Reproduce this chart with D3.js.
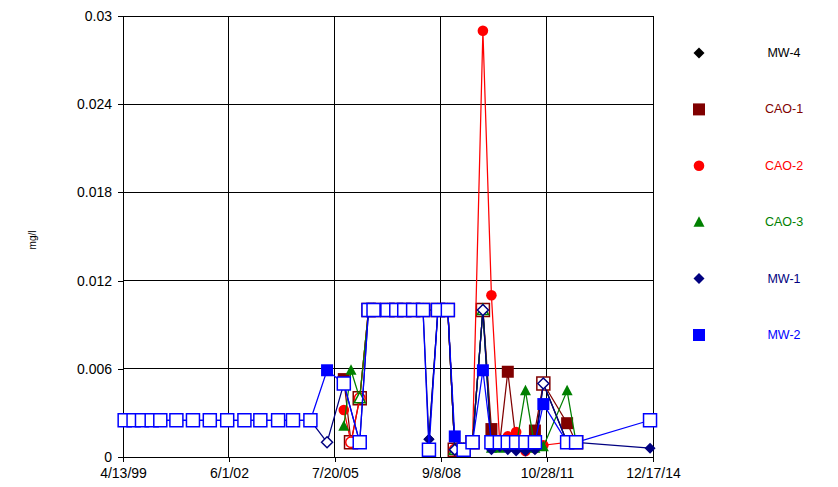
<!DOCTYPE html>
<html>
<head>
<meta charset="utf-8">
<script src="https://cdn.jsdelivr.net/npm/d3@7"></script>
<style>
  body { margin: 0; background: #fff; }
  svg { font-family: "Liberation Sans", Arial, sans-serif; }
</style>
</head>
<body>
<div id="chart"></div>
<script>
// sampling dates shared by all wells
const sampleDates = [
  '1999-05-01', '1999-08-05', '1999-11-04', '2000-02-17', '2000-05-20', '2000-11-10',
  '2001-05-08', '2001-11-06', '2002-05-13', '2002-11-15', '2003-05-06', '2003-11-14',
  '2004-04-23', '2004-10-28', '2005-04-26', '2005-10-24', '2006-01-10', '2006-04-14',
  '2006-07-18', '2006-09-10', '2007-02-07', '2007-05-14', '2007-08-08', '2007-11-12',
  '2008-02-27', '2008-05-01', '2008-08-06', '2008-11-21', '2009-02-04', '2009-05-11',
  '2009-08-15', '2009-12-05', '2010-03-07', '2010-06-06', '2010-08-31', '2010-11-29',
  '2011-03-10', '2011-06-20', '2011-09-19', '2012-06-02', '2012-09-07', '2014-11-15'
];

const N = null;
// mg/l, null = not sampled; detect 0 = non-detect (open marker)
const mw4Values = [N, N, N, N, N, N, N, N, N, N, N, N, N, N, N, N, N, N, N, N, N, N, N, N, N,
  0.0012, 0.01, 0.01, 0.0005, 0.0005, 0.001, 0.01, 0.001, 0.001, 0.001, 0.001, 0.001, 0.001, 0.005, 0.001, 0.001, N];
const mw4Detect = [0, 0, 0, 0, 0, 0, 0, 0, 0, 0, 0, 0, 0, 0, 0, 0, 0, 0, 0, 0, 0, 0, 0, 0, 0,
  1, 0, 0, 0, 0, 0, 0, 0, 0, 0, 0, 0, 0, 0, 0, 0, 0];

const cao1Values = [N, N, N, N, N, N, N, N, N, N, N, N, N, N, N,
  0.0053, 0.001, 0.004, 0.01, 0.01, 0.01, 0.01, 0.01, 0.01, 0.01, N, 0.01, 0.01,
  0.0005, 0.0005, 0.001, 0.01, 0.0019, 0.001, 0.0058, 0.001, 0.001, 0.0018, 0.005, 0.0023, 0.001, N];
const cao1Detect = [0, 0, 0, 0, 0, 0, 0, 0, 0, 0, 0, 0, 0, 0, 0,
  1, 0, 0, 0, 0, 0, 0, 0, 0, 0, 0, 0, 0,
  0, 0, 0, 0, 1, 0, 1, 0, 0, 1, 0, 1, 0, 0];

const cao2Values = [N, N, N, N, N, N, N, N, N, N, N, N, N, N, N,
  0.0032, 0.001, 0.004, 0.01, 0.01, 0.01, 0.01, 0.01, 0.01, 0.01, N, 0.01, 0.01,
  0.0005, 0.0005, 0.001, 0.029, 0.011, 0.0008, 0.0014, 0.0017, 0.0004, 0.0006, 0.0008, 0.001, 0.001, N];
const cao2Detect = [0, 0, 0, 0, 0, 0, 0, 0, 0, 0, 0, 0, 0, 0, 0,
  1, 0, 0, 0, 0, 0, 0, 0, 0, 0, 0, 0, 0,
  0, 0, 0, 1, 1, 1, 1, 1, 1, 1, 1, 0, 0, 0];

const cao3Values = [N, N, N, N, N, N, N, N, N, N, N, N, N, N, N,
  0.0021, 0.0059, 0.004, 0.01, 0.01, 0.01, 0.01, 0.01, 0.01, 0.01, N, 0.01, 0.01,
  0.0005, 0.0005, 0.001, 0.01, 0.0006, 0.0006, 0.0007, 0.0007, 0.0045, 0.0006, 0.0007, 0.0045, 0.001, N];
const cao3Detect = [0, 0, 0, 0, 0, 0, 0, 0, 0, 0, 0, 0, 0, 0, 0,
  1, 1, 0, 0, 0, 0, 0, 0, 0, 0, 0, 0, 0,
  0, 0, 0, 0, 1, 1, 1, 1, 1, 1, 1, 1, 0, 0];

const mw1Values = [0.0025, 0.0025, 0.0025, 0.0025, 0.0025, 0.0025, 0.0025, 0.0025, 0.0025, 0.0025,
  0.0025, 0.0025, 0.0025, 0.0025, 0.001, 0.005, N, 0.001, 0.01, 0.01, 0.01, 0.01, 0.01, 0.01, 0.01,
  0.0012, 0.01, 0.01, 0.0005, 0.0005, 0.001, 0.01, 0.0005, 0.0007, 0.0005, 0.0004, 0.0004, 0.0005,
  0.005, 0.001, 0.001, 0.0006];
const mw1Detect = [0, 0, 0, 0, 0, 0, 0, 0, 0, 0, 0, 0, 0, 0, 0, 0, 0, 0, 0, 0, 0, 0, 0, 0, 0,
  1, 0, 0, 0, 0, 0, 0, 1, 1, 1, 1, 1, 1, 0, 0, 0, 1];

const mw2Values = [0.0025, 0.0025, 0.0025, 0.0025, 0.0025, 0.0025, 0.0025, 0.0025, 0.0025, 0.0025,
  0.0025, 0.0025, 0.0025, 0.0025, 0.0059, 0.005, N, 0.001, 0.01, 0.01, 0.01, 0.01, 0.01, 0.01, 0.01,
  0.0005, 0.01, 0.01, 0.0014, 0.0005, 0.001, 0.0059, 0.001, 0.001, 0.001, 0.001, 0.001, 0.001,
  0.0036, 0.001, 0.001, 0.0025];
const mw2Detect = [0, 0, 0, 0, 0, 0, 0, 0, 0, 0, 0, 0, 0, 0, 1, 0, 0, 0, 0, 0, 0, 0, 0, 0, 0,
  0, 0, 0, 1, 0, 0, 1, 0, 0, 0, 0, 0, 0, 1, 0, 0, 0];

const seriesNames = ['MW-4', 'CAO-1', 'CAO-2', 'CAO-3', 'MW-1', 'MW-2'];
const seriesColors = ['#000000', '#800000', '#ff0000', '#008000', '#000080', '#0000ff'];
const seriesShapes = ['diamond', 'square', 'circle', 'triangle', 'diamond', 'square'];
const seriesValues = [mw4Values, cao1Values, cao2Values, cao3Values, mw1Values, mw2Values];
const seriesDetect = [mw4Detect, cao1Detect, cao2Detect, cao3Detect, mw1Detect, mw2Detect];

const xTickDates = ['1999-04-13', '2002-06-01', '2005-07-20', '2008-09-08', '2011-10-28', '2014-12-17'];
const yTicks = [0, 0.006, 0.012, 0.018, 0.024, 0.03];

const W = 838, H = 487;
const margin = {left: 123, right: 185, top: 16, bottom: 30};
const parse = d3.timeParse('%Y-%m-%d');

const svg = d3.select('#chart').append('svg')
  .attr('width', W)
  .attr('height', H);

const x = d3.scaleTime()
  .domain([parse(xTickDates[0]), parse(xTickDates[xTickDates.length - 1])])
  .range([margin.left, W - margin.right]);

const y = d3.scaleLinear()
  .domain([0, 0.03])
  .range([H - margin.bottom, margin.top]);

// grid
svg.append('g')
  .selectAll('line.h')
  .data(yTicks)
  .enter().append('line')
  .attr('x1', margin.left).attr('x2', W - margin.right)
  .attr('y1', d => y(d)).attr('y2', d => y(d))
  .attr('stroke', '#000').attr('stroke-width', 1)
  .attr('shape-rendering', 'crispEdges');

svg.append('g')
  .selectAll('line.v')
  .data(xTickDates)
  .enter().append('line')
  .attr('x1', d => x(parse(d))).attr('x2', d => x(parse(d)))
  .attr('y1', margin.top).attr('y2', H - margin.bottom)
  .attr('stroke', '#000').attr('stroke-width', 1)
  .attr('shape-rendering', 'crispEdges');

// axes
let yAxis = d3.axisLeft(y)
  .tickValues(yTicks)
  .tickSize(5)
  .tickPadding(6)
  .tickFormat(d => d === 0 ? '0' : d3.format('.3~f')(d));

svg.append('g')
  .attr('transform', `translate(${margin.left},0)`)
  .call(yAxis)
  .call(g => g.select('.domain').remove())
  .call(g => g.selectAll('line').attr('stroke', '#000').attr('shape-rendering', 'crispEdges'))
  .call(g => g.selectAll('text').attr('font-size', 14).attr('fill', '#000')
    .attr('font-family', '"Liberation Sans", Arial, sans-serif'));

let xAxis = d3.axisBottom(x)
  .tickValues(xTickDates.map(parse))
  .tickSize(5)
  .tickPadding(6)
  .tickFormat(d3.timeFormat('%-m/%-d/%y'));

svg.append('g')
  .attr('transform', `translate(0,${H - margin.bottom})`)
  .call(xAxis)
  .call(g => g.select('.domain').remove())
  .call(g => g.selectAll('line').attr('stroke', '#000').attr('shape-rendering', 'crispEdges'))
  .call(g => g.selectAll('text').attr('font-size', 14).attr('fill', '#000')
    .attr('font-family', '"Liberation Sans", Arial, sans-serif'));

svg.append('text')
  .text('mg/l')
  .attr('transform', 'translate(36,240) rotate(-90)')
  .attr('text-anchor', 'middle')
  .attr('font-size', 10);

// marker paths
function markerPath(shape, filled) {
  let s;
  if (shape === 'square') {
    s = filled ? 6 : 6.5;
    return `M${-s},${-s}H${s}V${s}H${-s}Z`;
  } else if (shape === 'diamond') {
    s = 5.5;
    return `M0,${-s}L${s},0L0,${s}L${-s},0Z`;
  } else if (shape === 'triangle') {
    return 'M0,-6L5.5,4.5L-5.5,4.5Z';
  } else {
    s = 5.3;
    return `M${s},0A${s},${s} 0 1,1 ${-s},0A${s},${s} 0 1,1 ${s},0Z`;
  }
}

let line = d3.line()
  .defined(d => d.v !== null)
  .x(d => x(d.date))
  .y(d => y(d.v));

for (let k = 0; k < seriesNames.length; k++) {
  let pts = sampleDates.map((d, i) => ({
    date: parse(d),
    v: seriesValues[k][i],
    det: seriesDetect[k][i]
  }));
  let present = pts.filter(p => p.v !== null);

  let g = svg.append('g').attr('class', 'series');

  g.append('path')
    .datum(present)
    .attr('d', line)
    .attr('fill', 'none')
    .attr('stroke', seriesColors[k])
    .attr('stroke-width', 1.25);

  g.selectAll('path.mark')
    .data(present)
    .enter().append('path')
    .attr('class', 'mark')
    .attr('transform', d => `translate(${x(d.date)},${y(d.v)})`)
    .attr('d', d => markerPath(seriesShapes[k], d.det))
    .attr('fill', d => d.det ? seriesColors[k] : '#fff')
    .attr('stroke', seriesColors[k])
    .attr('stroke-width', d => d.det ? 0 : 1.5);
}

// legend
let legendY = d3.scalePoint()
  .domain(seriesNames)
  .range([53, 335]);

let leg = svg.append('g');
for (let k = 0; k < seriesNames.length; k++) {
  leg.append('path')
    .attr('transform', `translate(699,${legendY(seriesNames[k])})`)
    .attr('d', markerPath(seriesShapes[k], true))
    .attr('fill', seriesColors[k]);
  leg.append('text')
    .text(seriesNames[k])
    .attr('x', 784)
    .attr('y', legendY(seriesNames[k]) + 4)
    .attr('text-anchor', 'middle')
    .attr('font-size', 12.5)
    .attr('fill', seriesColors[k]);
}
</script>
</body>
</html>
